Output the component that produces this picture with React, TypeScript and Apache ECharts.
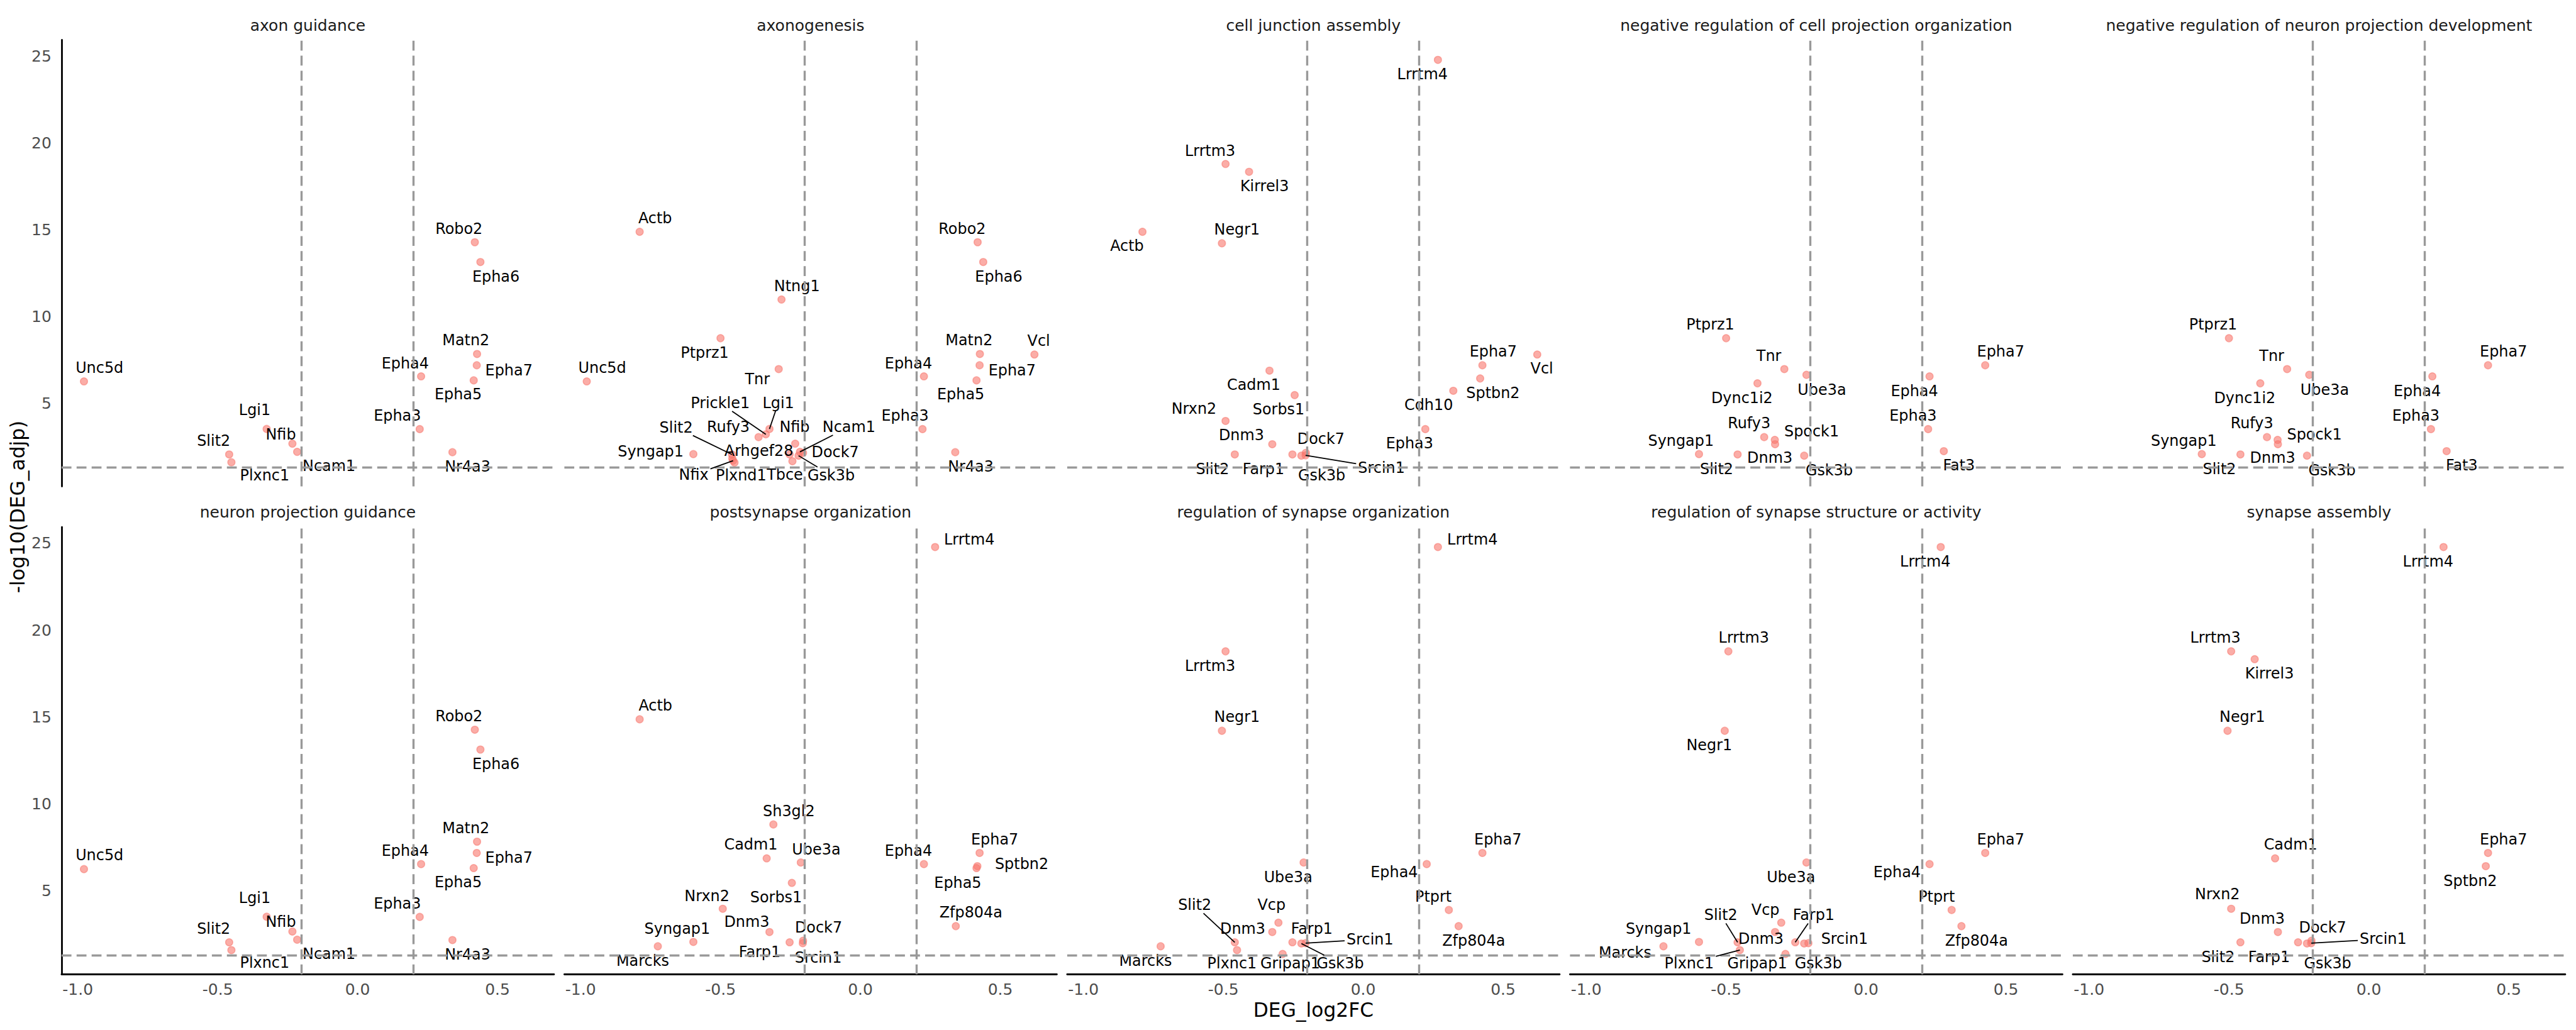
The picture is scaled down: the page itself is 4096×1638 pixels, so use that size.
import React, { useEffect, useRef } from "react";
import * as echarts from "echarts";

// ---------------- data ----------------
const genes = ["Unc5d","Lgi1","Nfib","Ncam1","Slit2","Plxnc1","Robo2","Epha6","Matn2","Epha7","Epha5","Epha4","Epha3","Nr4a3","Actb","Ptprz1","Ntng1","Tnr","Prickle1","Rufy3","Syngap1","Arhgef28","Nfix","Plxnd1","Tbce","Gsk3b","Dock7","Vcl","Lrrtm4","Lrrtm3","Kirrel3","Negr1","Cadm1","Sorbs1","Nrxn2","Dnm3","Farp1","Srcin1","Sptbn2","Cdh10","Ube3a","Dync1i2","Spock1","Fat3","Sh3gl2","Marcks","Zfp804a","Ptprt","Vcp","Gripap1"];
const log2FC = [-0.978,-0.325,-0.233,-0.216,-0.459,-0.451,0.419,0.439,0.427,0.426,0.415,0.227,0.222,0.339,-0.789,-0.500,-0.282,-0.292,-0.338,-0.364,-0.597,-0.458,-0.455,-0.450,-0.243,-0.221,-0.205,0.622,0.267,-0.492,-0.408,-0.505,-0.335,-0.245,-0.492,-0.325,-0.253,-0.206,0.418,0.322,-0.213,-0.388,-0.326,0.278,-0.311,-0.724,0.341,0.306,-0.303,-0.288];
const negLog10Padj = [6.25,3.51,2.66,2.19,2.04,1.59,14.27,13.13,7.83,7.18,6.31,6.54,3.50,2.17,14.87,8.74,10.97,6.96,3.20,3.04,2.06,1.80,1.68,1.57,1.65,1.97,2.13,7.80,24.78,18.78,18.33,14.21,6.87,5.46,3.97,2.63,2.04,1.99,6.42,5.71,6.63,6.14,2.88,2.23,8.82,1.81,2.97,3.90,3.17,1.37];

const panelTitles = [
  "axon guidance",
  "axonogenesis",
  "cell junction assembly",
  "negative regulation of cell projection organization",
  "negative regulation of neuron projection development",
  "neuron projection guidance",
  "postsynapse organization",
  "regulation of synapse organization",
  "regulation of synapse structure or activity",
  "synapse assembly",
];

const guidanceGenes = ["Unc5d","Lgi1","Nfib","Ncam1","Slit2","Plxnc1","Robo2","Epha6","Matn2","Epha7","Epha5","Epha4","Epha3","Nr4a3"];
const axonogenesisGenes = ["Actb","Unc5d","Ptprz1","Ntng1","Tnr","Prickle1","Lgi1","Rufy3","Nfib","Slit2","Ncam1","Syngap1","Arhgef28","Dock7","Nfix","Plxnd1","Tbce","Gsk3b","Farp1","Robo2","Epha6","Matn2","Vcl","Epha7","Epha4","Epha5","Epha3","Nr4a3"];
const junctionGenes = ["Lrrtm4","Lrrtm3","Kirrel3","Negr1","Actb","Cadm1","Sorbs1","Nrxn2","Dnm3","Dock7","Slit2","Farp1","Gsk3b","Srcin1","Epha7","Vcl","Sptbn2","Cdh10","Epha3"];
const negRegGenes = ["Ptprz1","Tnr","Ube3a","Dync1i2","Rufy3","Spock1","Syngap1","Slit2","Dnm3","Gsk3b","Epha7","Epha4","Epha3","Fat3"];
const postsynapseGenes = ["Lrrtm4","Actb","Sh3gl2","Cadm1","Ube3a","Sorbs1","Nrxn2","Dnm3","Syngap1","Marcks","Farp1","Dock7","Srcin1","Epha4","Epha7","Sptbn2","Epha5","Zfp804a"];
const synOrgGenes = ["Lrrtm4","Lrrtm3","Negr1","Ube3a","Epha7","Epha4","Ptprt","Zfp804a","Vcp","Slit2","Dnm3","Farp1","Srcin1","Marcks","Plxnc1","Gripap1","Gsk3b"];
const synStructGenes = ["Lrrtm4","Lrrtm3","Negr1","Ube3a","Epha7","Epha4","Ptprt","Zfp804a","Vcp","Slit2","Farp1","Syngap1","Dnm3","Srcin1","Marcks","Plxnc1","Gripap1","Gsk3b"];
const synAssemblyGenes = ["Lrrtm4","Lrrtm3","Kirrel3","Negr1","Cadm1","Epha7","Sptbn2","Nrxn2","Dnm3","Dock7","Srcin1","Slit2","Farp1","Gsk3b"];

const panelGenes = [guidanceGenes, axonogenesisGenes, junctionGenes, negRegGenes, negRegGenes, guidanceGenes, postsynapseGenes, synOrgGenes, synStructGenes, synAssemblyGenes];
const unlabelled: string[][] = [[], ["Farp1"], [], [], [], [], [], [], [], []];

const fcCutoffs = [-0.2, 0.2];
const padjCutoff = -Math.log10(0.05);
const xTicks = [-1.0, -0.5, 0.0, 0.5];
const yTicks = [5, 10, 15, 20, 25];
const xRange = [-1.058, 0.702];
const yRange = [0.2, 25.93];

// ---------------- label placement (pixel offsets from the point, [dx, dy, connector]) ----------------
const guidanceLabels: Record<string, any[]> = {
  Robo2: [-25.3, -21.5], Epha6: [24.7, 23.0], Matn2: [-17.8, -21.5], Epha7: [51.1, 8.0], Epha5: [-24.7, 22.0],
  Epha4: [-25.3, -21.0], Epha3: [-35.6, -21.0], Nr4a3: [24.1, 23.0], Unc5d: [24.7, -22.0], Lgi1: [-19.0, -30.0],
  Nfib: [-18.4, -15.0], Slit2: [-24.7, -22.0], Plxnc1: [52.9, 20.5], Ncam1: [50.6, 22.5],
};
const negRegLabels: Record<string, any[]> = {
  Ptprz1: [-25.1, -21.5], Tnr: [-24.6, -21.0], Ube3a: [24.6, 23.5], Dync1i2: [-24.6, 23.0], Rufy3: [-24.0, -22.0],
  Spock1: [58.5, -13.5], Syngap1: [-28.7, -21.0], Slit2: [-33.4, 23.0], Dnm3: [-8.4, 22.0], Gsk3b: [39.7, 23.0],
  Epha7: [24.6, -21.5], Epha4: [-24.0, 23.0], Epha3: [-24.0, -21.0], Fat3: [24.0, 23.0],
};
const labelOffsets: Record<string, any[]>[] = [
  guidanceLabels,
  {
    Actb: [24.6, -21.5], Unc5d: [24.6, -22.0], Ptprz1: [-25.1, 23.5], Ntng1: [24.6, -21.5], Tnr: [-34.0, 16.5],
    Prickle1: [-72.6, -49.6, 1], Lgi1: [14.1, -41.6, 1], Rufy3: [-48.1, -16.0], Nfib: [-1.0, -26.5],
    Slit2: [-88.8, -43.1, 1], Ncam1: [77.9, -39.6, 1], Syngap1: [-67.9, -4.0], Arhgef28: [42.3, -12.0],
    Dock7: [51.2, -1.5], Nfix: [-62.6, 22.5, 1], Plxnd1: [10.5, 20.5], Tbce: [-12.0, 22.0], Gsk3b: [51.7, 31.0, 1],
    Robo2: [-24.6, -21.5], Epha6: [24.6, 23.0], Matn2: [-17.2, -21.5], Vcl: [6.8, -22.0], Epha7: [51.7, 8.0],
    Epha4: [-24.6, -21.0], Epha5: [-25.1, 22.0], Epha3: [-27.7, -21.0], Nr4a3: [24.6, 23.0],
  },
  {
    Lrrtm4: [-24.6, 23.0], Lrrtm3: [-24.6, -21.0], Kirrel3: [24.6, 22.5], Negr1: [24.0, -21.5], Actb: [-24.6, 22.5],
    Cadm1: [-25.1, 23.0], Sorbs1: [-25.6, 22.5], Nrxn2: [-50.2, -19.0], Dnm3: [-49.1, -14.0], Dock7: [24.0, -22.5],
    Slit2: [-35.5, 23.0], Farp1: [-46.0, 23.0], Gsk3b: [32.4, 31.0], Srcin1: [120.7, 20.0, 1], Epha7: [17.2, -21.5],
    Vcl: [7.3, 22.5], Sptbn2: [20.4, 23.0], Cdh10: [-39.2, 23.0], Epha3: [-25.1, 22.5],
  },
  negRegLabels,
  { ...negRegLabels, Spock1: [58.5, -9.0] },
  guidanceLabels,
  {
    Lrrtm4: [54.3, -12.2], Actb: [25.1, -21.6], Sh3gl2: [24.6, -21.0], Cadm1: [-25.1, -21.6], Ube3a: [24.6, -21.0],
    Sorbs1: [-25.1, 23.2], Nrxn2: [-25.1, -20.5], Dnm3: [-36.1, -16.0], Syngap1: [-25.6, -21.0], Marcks: [-24.0, 23.2],
    Farp1: [-47.5, 15.5], Dock7: [24.6, -21.0], Srcin1: [24.6, 23.2], Epha4: [-24.6, -21.6], Epha7: [24.0, -21.6],
    Sptbn2: [70.5, -3.9], Epha5: [-29.8, 23.2], Zfp804a: [24.0, -21.6],
  },
  {
    Lrrtm4: [54.9, -11.6], Lrrtm3: [-24.6, 23.2], Negr1: [24.0, -22.1], Ube3a: [-24.6, 23.2], Epha7: [24.6, -21.6],
    Epha4: [-51.7, 13.3], Ptprt: [-24.6, -21.0], Zfp804a: [24.0, 22.7], Vcp: [-11.0, -28.2], Slit2: [-63.7, -59.2, 1],
    Dnm3: [-47.0, -5.0], Farp1: [30.8, -21.6], Srcin1: [102.4, -6.1, 1], Marcks: [-24.0, 23.2], Plxnc1: [-8.0, 21.0],
    Gripap1: [12.0, 14.9], Gsk3b: [61.7, 31.5, 1],
  },
  {
    Lrrtm4: [-24.6, 23.2], Lrrtm3: [24.6, -21.6], Negr1: [-24.6, 23.2], Ube3a: [-24.6, 23.2], Epha7: [24.6, -21.6],
    Epha4: [-51.7, 13.3], Ptprt: [-24.0, -21.0], Zfp804a: [24.0, 22.7], Vcp: [-25.1, -20.5], Slit2: [-26.6, -43.1, 1],
    Farp1: [29.3, -43.1, 1], Syngap1: [-64.3, -21.0], Dnm3: [-22.5, 11.1], Srcin1: [57.5, -6.6], Marcks: [-61.1, 10.0],
    Plxnc1: [-80.5, 21.0, 1], Gripap1: [-44.9, 14.9], Gsk3b: [22.5, 31.5],
  },
  {
    Lrrtm4: [-24.6, 23.2], Lrrtm3: [-25.1, -21.6], Kirrel3: [23.5, 23.2], Negr1: [23.5, -22.1], Cadm1: [24.6, -21.6],
    Epha7: [24.6, -21.6], Sptbn2: [-24.6, 23.2], Nrxn2: [-21.9, -22.7], Dnm3: [-25.1, -21.0], Dock7: [17.8, -21.0],
    Srcin1: [114.4, -6.6, 1], Slit2: [-35.5, 23.2], Farp1: [-46.0, 23.2], Gsk3b: [32.9, 31.5],
  },
];

// ---------------- styling / layout ----------------
const FONT = '"DejaVu Sans", "Noto Sans", sans-serif';
const W = 4096, H = 1638;
const PANEL_LEFT0 = 97.9, PANEL_STEP = 799.5, PANEL_W = 783;
const ROW_TOP = [63.5, 838.2], ROW_H = [710, 711.2];
const STRIP_Y = [40.0, 814.5];
const LABEL_FS = 23.9;
const AXIS_FS = 25;
const POINT_COLOR = "rgba(248,118,109,0.6)";
const DASH = { color: "#999999", width: 3.4, type: [15.7, 8.2] as any };

export default function App() {
  const ref = useRef<HTMLDivElement>(null);

  useEffect(() => {
    if (!ref.current) return;
    const chart = echarts.init(ref.current, null, { renderer: "svg" });
    const idx = new Map<string, number>();
    genes.forEach((g, i) => idx.set(g, i));

    const grid: any[] = [], xAxis: any[] = [], yAxis: any[] = [], series: any[] = [];
    for (let p = 0; p < 10; p++) {
      const row = p < 5 ? 0 : 1;
      const col = p % 5;
      grid.push({
        left: PANEL_LEFT0 + col * PANEL_STEP, top: ROW_TOP[row], width: PANEL_W, height: ROW_H[row],
        containLabel: false, outerBoundsMode: "none",
      });
      xAxis.push({
        gridIndex: p, type: "value", min: xRange[0], max: xRange[1],
        axisLine: { show: row === 1, onZero: false, lineStyle: { color: "#000", width: 2.8 } },
        axisTick: { show: false }, splitLine: { show: false },
        axisLabel: {
          show: row === 1, customValues: xTicks, formatter: (v: number) => v.toFixed(1),
          color: "#4D4D4D", fontSize: AXIS_FS, fontFamily: FONT, margin: 12,
        },
      });
      yAxis.push({
        gridIndex: p, type: "value", min: yRange[0], max: yRange[1],
        axisLine: { show: col === 0, onZero: false, lineStyle: { color: "#000", width: 2.8 } },
        axisTick: { show: false }, splitLine: { show: false },
        axisLabel: {
          show: col === 0, customValues: yTicks,
          color: "#4D4D4D", fontSize: AXIS_FS, fontFamily: FONT, margin: 16,
        },
      });
      // reference lines
      series.push({
        type: "scatter", xAxisIndex: p, yAxisIndex: p, data: [], silent: true, z: 1,
        markLine: {
          silent: true, symbol: ["none", "none"], label: { show: false },
          lineStyle: DASH, emphasis: { disabled: true },
          data: [...fcCutoffs.map((v) => ({ xAxis: v })), { yAxis: padjCutoff }],
        },
      });
      const offs = labelOffsets[p];
      const data = panelGenes[p].map((g) => {
        const i = idx.get(g)!;
        const o = offs[g] || [0, 0];
        const hide = unlabelled[p].includes(g);
        return {
          name: g,
          value: [log2FC[i], negLog10Padj[i]],
          label: hide ? { show: false } : { show: true, offset: [o[0], o[1]] },
        };
      });
      series.push({
        type: "scatter", xAxisIndex: p, yAxisIndex: p, z: 3, silent: true,
        symbol: "circle", symbolSize: 11.5,
        itemStyle: { color: POINT_COLOR, borderColor: "rgba(248,118,109,0.55)", borderWidth: 1.5, opacity: 1 },
        label: {
          show: true, position: "inside", formatter: "{b}", color: "#000", fontSize: LABEL_FS,
          fontFamily: FONT, textBorderWidth: 0,
        },
        emphasis: { disabled: true },
        data,
      });
    }

    chart.setOption({
      animation: false,
      backgroundColor: "#fff",
      grid, xAxis, yAxis, series,
    });

    // texts and repel connectors
    const ctx = document.createElement("canvas").getContext("2d")!;
    ctx.font = `${LABEL_FS}px ${FONT}`;
    const elements: any[] = [];
    panelTitles.forEach((t, p) => {
      const row = p < 5 ? 0 : 1;
      const col = p % 5;
      elements.push({
        type: "text", x: PANEL_LEFT0 + col * PANEL_STEP + PANEL_W / 2, y: STRIP_Y[row], silent: true,
        style: { text: t, fill: "#1A1A1A", fontSize: AXIS_FS, fontFamily: FONT, align: "center", verticalAlign: "middle" },
      });
      const offs = labelOffsets[p];
      panelGenes[p].forEach((g) => {
        const o = offs[g];
        if (!o || !o[2]) return;
        const i = idx.get(g)!;
        const pt = chart.convertToPixel({ gridIndex: p }, [log2FC[i], negLog10Padj[i]]) as number[];
        const px = pt[0], py = pt[1];
        const lx = px + o[0], ly = py + o[1];
        const hw = ctx.measureText(g).width / 2 + 3;
        const hh = LABEL_FS * 0.5 + 1;
        const dx = px - lx, dy = py - ly;
        const t2 = Math.min(hw / Math.max(Math.abs(dx), 1e-6), hh / Math.max(Math.abs(dy), 1e-6));
        const ex = lx + dx * t2, ey = ly + dy * t2;
        elements.push({
          type: "line", silent: true, z: 100,
          shape: { x1: px, y1: py, x2: ex, y2: ey },
          style: { stroke: "#000", lineWidth: 1.8 },
        });
      });
    });
    elements.push({
      type: "text", x: PANEL_LEFT0 + (4 * PANEL_STEP + PANEL_W) / 2, y: 1605.8, silent: true,
      style: { text: "DEG_log2FC", fill: "#000", fontSize: 31.3, fontFamily: FONT, align: "center", verticalAlign: "middle" },
    });
    elements.push({
      type: "text", x: 27.6, y: 806, rotation: Math.PI / 2, silent: true,
      style: { text: "-log10(DEG_adjp)", fill: "#000", fontSize: 31.3, fontFamily: FONT, align: "center", verticalAlign: "middle" },
    });
    chart.setOption({ graphic: { elements } });

    return () => chart.dispose();
  }, []);

  return <div ref={ref} style={{ position: "fixed", left: 0, top: 0, width: W, height: H, background: "#fff" }} />;
}
